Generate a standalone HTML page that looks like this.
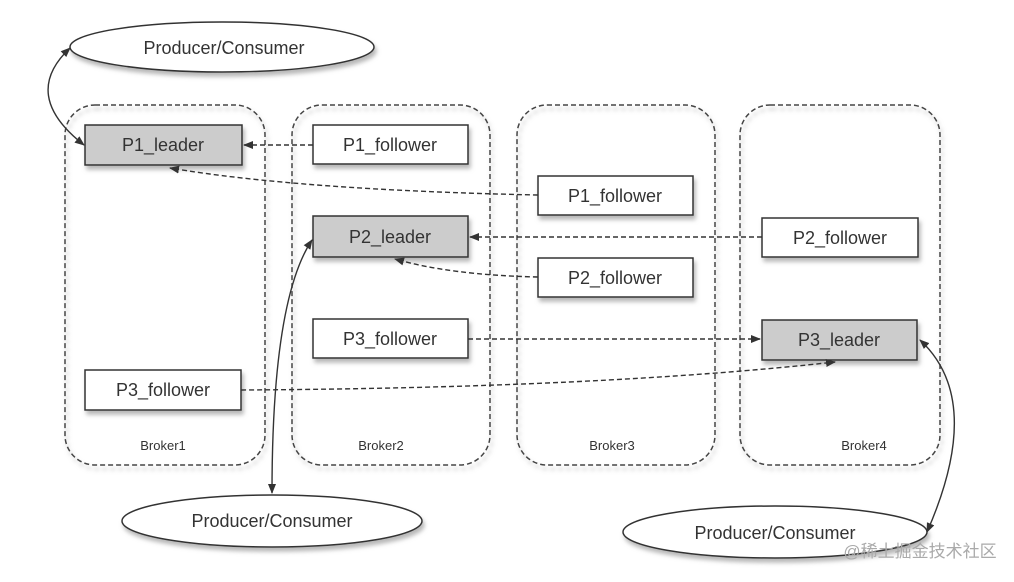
<!DOCTYPE html>
<html><head><meta charset="utf-8"><style>
html,body{margin:0;padding:0;background:#fff;}
svg{display:block;}
text{font-family:"Liberation Sans","Noto Sans CJK SC",sans-serif;fill:#333;}
</style></head><body>
<svg width="1014" height="582" viewBox="0 0 1014 582" xmlns="http://www.w3.org/2000/svg">
<defs>
<marker id="ah" markerWidth="10" markerHeight="10" refX="9" refY="5" orient="auto" markerUnits="userSpaceOnUse">
<path d="M0,1 L10,5 L0,9 z" fill="#333"/></marker>
<marker id="as" markerWidth="10" markerHeight="10" refX="1" refY="5" orient="auto" markerUnits="userSpaceOnUse">
<path d="M10,1 L0,5 L10,9 z" fill="#333"/></marker>
<filter id="sh" x="-10%" y="-10%" width="130%" height="140%"><feDropShadow dx="2" dy="4" stdDeviation="2" flood-color="#888" flood-opacity="0.6"/></filter>
</defs>
<g fill="none" stroke="#444" stroke-width="1.5" stroke-dasharray="5,3" filter="url(#sh)">
<rect x="65" y="105" width="200" height="360" rx="30"/>
<rect x="292" y="105" width="198" height="360" rx="30"/>
<rect x="517" y="105" width="198" height="360" rx="30"/>
<rect x="740" y="105" width="200" height="360" rx="30"/>
</g>
<g font-size="13" text-anchor="middle">
<text x="163" y="450">Broker1</text>
<text x="381" y="450">Broker2</text>
<text x="612" y="450">Broker3</text>
<text x="864" y="450">Broker4</text>
</g>
<g stroke="#333" stroke-width="1.5" filter="url(#sh)">
<ellipse cx="222" cy="47" rx="152" ry="25" fill="#fff"/>
<ellipse cx="272" cy="521" rx="150" ry="26" fill="#fff"/>
<ellipse cx="775" cy="532" rx="152" ry="26" fill="#fff"/>
<rect x="85" y="125" width="157" height="40" fill="#ccc"/>
<rect x="313" y="125" width="155" height="39" fill="#fff"/>
<rect x="538" y="176" width="155" height="39" fill="#fff"/>
<rect x="313" y="216" width="155" height="41" fill="#ccc"/>
<rect x="762" y="218" width="156" height="39" fill="#fff"/>
<rect x="538" y="258" width="155" height="39" fill="#fff"/>
<rect x="313" y="319" width="155" height="39" fill="#fff"/>
<rect x="762" y="320" width="155" height="40" fill="#ccc"/>
<rect x="85" y="370" width="156" height="40" fill="#fff"/>
</g>
<g font-size="18" text-anchor="middle">
<text x="224" y="54">Producer/Consumer</text>
<text x="272" y="527">Producer/Consumer</text>
<text x="775" y="539">Producer/Consumer</text>
<text x="163" y="151">P1_leader</text>
<text x="390" y="151">P1_follower</text>
<text x="615" y="202">P1_follower</text>
<text x="390" y="243">P2_leader</text>
<text x="840" y="244">P2_follower</text>
<text x="615" y="284">P2_follower</text>
<text x="390" y="345">P3_follower</text>
<text x="839" y="346">P3_leader</text>
<text x="163" y="396">P3_follower</text>
</g>
<g fill="none" stroke="#333" stroke-width="1.4" stroke-dasharray="5,3">
<path d="M313,145 L244,145" marker-end="url(#ah)"/>
<path d="M538,195 Q300,190 170,168" marker-end="url(#ah)"/>
<path d="M762,237 L470,237" marker-end="url(#ah)"/>
<path d="M538,277 Q450,275 395,259" marker-end="url(#ah)"/>
<path d="M468,339 L760,339" marker-end="url(#ah)"/>
<path d="M241,390 Q600,388 835,362" marker-end="url(#ah)"/>
</g>
<g fill="none" stroke="#333" stroke-width="1.4">
<path d="M70,48 Q20,95 84,145" marker-start="url(#as)" marker-end="url(#ah)"/>
<path d="M312,240 Q272,300 272,493" marker-start="url(#as)" marker-end="url(#ah)"/>
<path d="M920,340 Q985,400 927,532" marker-start="url(#as)" marker-end="url(#ah)"/>
</g>
<text x="920" y="557" font-size="17" text-anchor="middle" style="fill:#aaa">@稀土掘金技术社区</text>
</svg>
</body></html>
